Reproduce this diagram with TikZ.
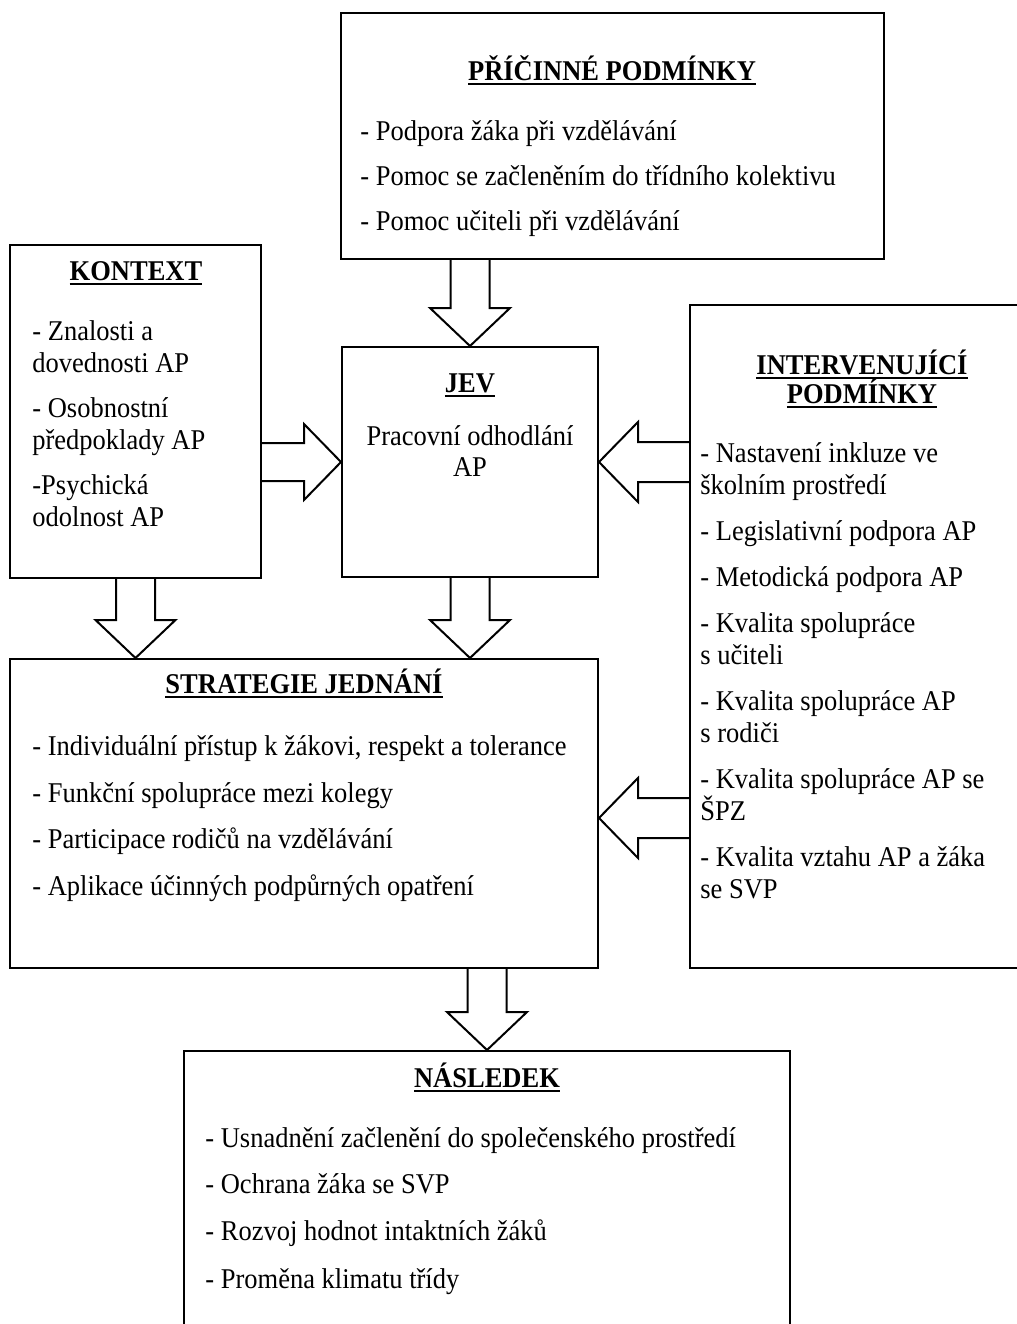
\documentclass[tikz,border=0pt]{standalone}
\usepackage{fontspec}
\usepackage{graphicx}
\setmainfont{Liberation Serif}
\usetikzlibrary{calc,fit}
\newcommand{\ulbf}[1]{\setbox0=\hbox{\bfseries #1}\rlap{\vrule height -1.5pt depth 2.5pt width \wd0}\box0}
\tikzset{
 box/.style={draw, line width=1pt, inner sep=0pt, rectangle},
 blk/.style={draw, line width=1pt, line join=miter},
 tall/.style={execute at begin node={\setbox1=\hbox\bgroup}, execute at end node={\egroup\scalebox{1}[1.08]{\box1}}},
 txt/.style={inner sep=0pt, anchor=base west, font=\fontsize{13.25}{16}\selectfont, tall},
 ctxt/.style={inner sep=0pt, anchor=base, font=\fontsize{13.25}{16}\selectfont, tall},
}
\newcommand{\arrdown}[2]{\draw[blk] ($(#1)+(-19.5,0)$) -- ($(#2)+(-19.5,-38)$) -- ($(#2)+(-40,-38)$) -- (#2) -- ($(#2)+(40,-38)$) -- ($(#2)+(19.5,-38)$) -- ($(#1)+(19.5,0)$);}
\newcommand{\arrright}[2]{\draw[blk] ($(#1)+(0,-19)$) -- ($(#2)+(-37,-19)$) -- ($(#2)+(-37,-38)$) -- (#2) -- ($(#2)+(-37,38)$) -- ($(#2)+(-37,19)$) -- ($(#1)+(0,19)$);}
\newcommand{\arrleft}[2]{\draw[blk] ($(#1)+(0,-20)$) -- ($(#2)+(39,-20)$) -- ($(#2)+(39,-40)$) -- (#2) -- ($(#2)+(39,40)$) -- ($(#2)+(39,20)$) -- ($(#1)+(0,20)$);}
\begin{document}
\begin{tikzpicture}[x=0.5pt, y=-0.5pt]
\useasboundingbox (0,0) rectangle (1017,1324);
\clip (0,0) rectangle (1017,1324);
% boxes
\node[box, fit={(341,13) (884,259)}] (pric) {};
\node[box, fit={(10,245) (261,578)}] (kont) {};
\node[box, fit={(342,347) (598,577)}] (jev) {};
\node[box, fit={(690,305) (1030,968)}] (interv) {};
\node[box, fit={(10,659) (598,968)}] (strat) {};
\node[box, fit={(184,1051) (790,1345)}] (nasl) {};
% arrows
\arrdown{jev.north |- pric.south}{jev.north}
\arrright{kont.east |- jev.west}{jev.west}
\arrleft{interv.west |- jev.east}{jev.east}
\arrdown{kont.south}{kont.south |- strat.north}
\arrdown{jev.south}{jev.south |- strat.north}
\coordinate (s6) at ($(strat.east)+(0,4.5)$);
\arrleft{interv.west |- s6}{s6}
\arrdown{nasl.north |- strat.south}{nasl.north}
% PRICINNE
\node[ctxt] (pt) at (612,80) {\ulbf{PŘÍČINNÉ PODMÍNKY}};
\node[txt] (p1) at (360,140) {- Podpora žáka při vzdělávání};
\node[txt] (p2) at (360,185) {- Pomoc se začleněním do třídního kolektivu};
\node[txt] (p3) at (360,230) {- Pomoc učiteli při vzdělávání};
% KONTEXT
\node[ctxt] (kt) at (136,280) {\ulbf{KONTEXT}};
\node[txt] (k1a) at (32,340) {- Znalosti a};
\node[txt] (k1b) at (32,372) {dovednosti AP};
\node[txt] (k2a) at (32,417) {- Osobnostní};
\node[txt] (k2b) at (32,449) {předpoklady AP};
\node[txt] (k3a) at (32,494) {-Psychická};
\node[txt] (k3b) at (32,526) {odolnost AP};
% JEV
\node[ctxt] (jt) at (470,392) {\ulbf{JEV}};
\node[ctxt] (j1) at (470,445) {Pracovní odhodlání};
\node[ctxt] (j2) at (470,476) {AP};
% INTERVENUJICI
\node[ctxt] (it1) at (862,374) {\ulbf{INTERVENUJÍCÍ}};
\node[ctxt] (it2) at (862,403) {\ulbf{PODMÍNKY}};
\node[txt] (i1a) at (700,462) {- Nastavení inkluze ve};
\node[txt] (i1b) at (700,494) {školním prostředí};
\node[txt] (i2) at (700,540) {- Legislativní podpora AP};
\node[txt] (i3) at (700,586) {- Metodická podpora AP};
\node[txt] (i4a) at (700,632) {- Kvalita spolupráce};
\node[txt] (i4b) at (700,664) {s učiteli};
\node[txt] (i5a) at (700,710) {- Kvalita spolupráce AP};
\node[txt] (i5b) at (700,742) {s rodiči};
\node[txt] (i6a) at (700,788) {- Kvalita spolupráce AP se};
\node[txt] (i6b) at (700,820) {ŠPZ};
\node[txt] (i7a) at (700,866) {- Kvalita vztahu AP a žáka};
\node[txt] (i7b) at (700,898) {se SVP};
% STRATEGIE
\node[ctxt] (st) at (304,693) {\ulbf{STRATEGIE JEDNÁNÍ}};
\node[txt] (s1) at (32,755) {- Individuální přístup k žákovi, respekt a tolerance};
\node[txt] (s2) at (32,802) {- Funkční spolupráce mezi kolegy};
\node[txt] (s3) at (32,848) {- Participace rodičů na vzdělávání};
\node[txt] (s4) at (32,895) {- Aplikace účinných podpůrných opatření};
% NASLEDEK
\node[ctxt] (nt) at (487,1087) {\ulbf{NÁSLEDEK}};
\node[txt] (n1) at (205,1147) {- Usnadnění začlenění do společenského prostředí};
\node[txt] (n2) at (205,1193) {- Ochrana žáka se SVP};
\node[txt] (n3) at (205,1240) {- Rozvoj hodnot intaktních žáků};
\node[txt] (n4) at (205,1288) {- Proměna klimatu třídy};
\end{tikzpicture}
\end{document}
